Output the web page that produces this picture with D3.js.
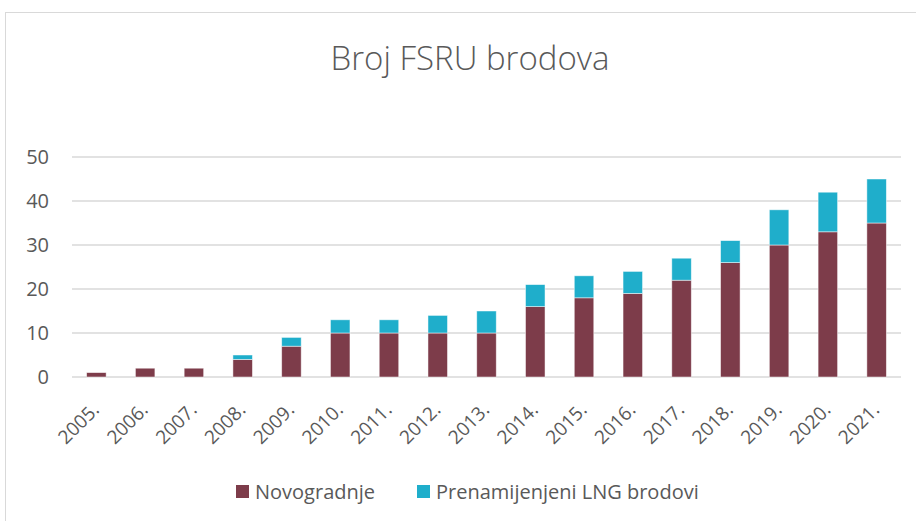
<!DOCTYPE html>
<html>
<head>
<meta charset="utf-8">
<script src="https://cdn.jsdelivr.net/npm/d3@7"></script>
<style>
  body { margin: 0; background: #fff; }
  svg { display: block; font-family: "Open Sans", sans-serif; }
</style>
</head>
<body>
<div id="chart"></div>
<script>
// data
const years = ["2005.", "2006.", "2007.", "2008.", "2009.", "2010.", "2011.", "2012.", "2013.",
    "2014.", "2015.", "2016.", "2017.", "2018.", "2019.", "2020.", "2021."];
const novogradnje = [1, 2, 2, 4, 7, 10, 10, 10, 10, 16, 18, 19, 22, 26, 30, 33, 35];
const prenamijenjeni = [0, 0, 0, 1, 2, 3, 3, 4, 5, 5, 5, 5, 5, 5, 8, 9, 10];
const seriesNames = ["Novogradnje", "Prenamijenjeni LNG brodovi"];
const seriesColors = ["#7D3C4A", "#1FAECB"];
const yTicks = [0, 10, 20, 30, 40, 50];

const width = 916, height = 521;
const margin = {top: 157, right: 15, bottom: 144, left: 72};
const plotW = width - margin.left - margin.right,
    plotH = height - margin.top - margin.bottom;

let svg = d3.select("#chart")
    .append("svg")
    .attr("width", width)
    .attr("height", height);

// chart frame
svg.append("rect")
    .attr("x", 5.5).attr("y", 12.5)
    .attr("width", width).attr("height", height)
    .attr("fill", "none")
    .attr("stroke", "#D9D9D9");

svg.append("text")
    .attr("x", 470)
    .attr("y", 70)
    .attr("text-anchor", "middle")
    .attr("fill", "#595959")
    .style("font-size", "33px")
    .style("font-weight", 300)
    .text("Broj FSRU brodova");

let g = svg.append("g")
    .attr("transform", "translate(" + margin.left + "," + margin.top + ")");

const x = d3.scaleBand().domain(years).range([0, plotW]).paddingInner(0.6).paddingOuter(0.3);
const y = d3.scaleLinear().domain([0, 50]).range([plotH, 0]);

// gridlines
g.selectAll(".grid")
    .data(yTicks)
    .join("line")
    .attr("x1", 0).attr("x2", plotW)
    .attr("y1", d => y(d)).attr("y2", d => y(d))
    .attr("stroke", "#D9D9D9")
    .attr("stroke-width", 1.3);

// y labels
g.selectAll(".ylab")
    .data(yTicks)
    .join("text")
    .attr("x", -23)
    .attr("y", d => y(d))
    .attr("dy", "0.36em")
    .attr("text-anchor", "end")
    .attr("fill", "#595959")
    .style("font-size", "20px")
    .text(d => d);

// stacked bars
const rows = years.map((yr, i) => ({year: yr, a: novogradnje[i], b: prenamijenjeni[i]}));
const stack = d3.stack().keys(["a", "b"])(rows);

g.selectAll(".layer")
    .data(stack)
    .join("g")
    .attr("fill", (d, i) => seriesColors[i])
    .selectAll("rect")
    .data(d => d.filter(v => v[1] > v[0]))
    .join("rect")
    .attr("x", d => x(d.data.year))
    .attr("y", d => y(d[1]))
    .attr("width", x.bandwidth())
    .attr("height", d => y(d[0]) - y(d[1]))
    .attr("stroke", "#fff")
    .attr("stroke-opacity", 0.6)
    .attr("stroke-width", 0.8);

// x labels, rotated
g.selectAll(".xlab")
    .data(years)
    .join("text")
    .attr("transform", d => "translate(" + (x(d) + x.bandwidth() / 2 + 4) + "," + (plotH + 34) + ") rotate(-45)")
    .attr("text-anchor", "end")
    .attr("fill", "#595959")
    .style("font-size", "19px")
    .text(d => d);

// legend
const legendX = [236, 417];
let legend = svg.selectAll(".legend")
    .data(seriesNames)
    .join("g")
    .attr("transform", (d, i) => "translate(" + legendX[i] + ",492)");
legend.append("rect")
    .attr("x", 0).attr("y", -7)
    .attr("width", 13).attr("height", 13)
    .attr("fill", (d, i) => seriesColors[i]);
legend.append("text")
    .attr("x", 19)
    .attr("y", 0)
    .attr("dy", "0.35em")
    .attr("fill", "#595959")
    .style("font-size", "20px")
    .text(d => d);
</script>
</body>
</html>
